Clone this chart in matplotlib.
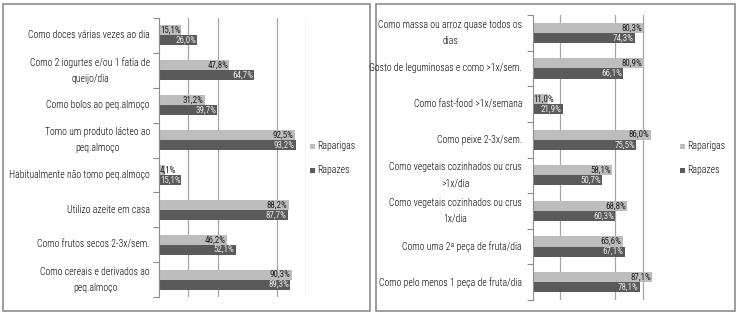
import matplotlib
matplotlib.use("Agg")
import matplotlib.pyplot as plt
from matplotlib.patches import Rectangle

FAMS = ['Liberation Sans Narrow', 'Roboto Condensed', 'DejaVu Sans Condensed',
        'Liberation Sans', 'DejaVu Sans']
plt.rcParams['font.family'] = FAMS

series_names = ["Raparigas", "Rapazes"]

left_categories = [
    "Como doces várias vezes ao dia",
    "Como 2 iogurtes e/ou 1 fatia de\nqueijo/dia",
    "Como bolos ao peq.almoço",
    "Tomo um produto lácteo ao\npeq.almoço",
    "Habitualmente não tomo peq.almoço",
    "Utilizo azeite em casa",
    "Como frutos secos 2-3x/sem.",
    "Como cereais e derivados ao\npeq.almoço",
]
left_raparigas = [15.1, 47.8, 31.2, 92.5, 4.1, 88.2, 46.2, 90.3]
left_rapazes = [26.0, 64.7, 39.7, 93.2, 15.1, 87.7, 52.1, 89.3]

right_categories = [
    "Como massa ou arroz quase todos os\ndias",
    "Gosto de leguminosas e como >1x/sem.",
    "Como fast-food >1x/semana",
    "Como peixe 2-3x/sem.",
    "Como vegetais cozinhados ou crus\n>1x/dia",
    "Como vegetais cozinhados ou crus\n1x/dia",
    "Como uma 2ª peça de fruta/dia",
    "Como pelo menos 1 peça de fruta/dia",
]
right_raparigas = [80.3, 80.9, 11.0, 86.0, 58.1, 68.8, 65.6, 87.1]
right_rapazes = [74.3, 66.1, 21.9, 75.5, 50.7, 60.3, 67.1, 78.1]

W, H = 737, 314
fig = plt.figure(figsize=(W / 100, H / 100), dpi=100)
fig.patch.set_facecolor("white")

LIGHT = "#bdbdbd"
DARK = "#5a5a5a"
GRID = "#a6a6a6"
CAT_FS = 7.0
VAL_FS = 6.5
WEIGHT = "light"


def fx(px):
    return px / W


def fy(py):
    return 1 - py / H


def fmt(v):
    return f"{v:.1f}%".replace(".", ",")


def panel(frame, axbox, label_right, legend_x, cats, rap, raz, grid_vals):
    fx0, fy0, fx1, fy1 = frame
    fig.patches.append(Rectangle((fx(fx0), fy(fy1)), fx(fx1 - fx0), (fy1 - fy0) / H,
                                 transform=fig.transFigure, fill=False,
                                 edgecolor="#8c8c8c", linewidth=1.2))
    x0, y0, x1, y1 = axbox
    ax = fig.add_axes([fx(x0), fy(y1), fx(x1 - x0), (y1 - y0) / H])
    n = len(cats)
    pos = list(range(n))
    bh = 0.285
    ax.barh([p - bh / 2 for p in pos], rap, height=bh, color=LIGHT, zorder=2)
    ax.barh([p + bh / 2 for p in pos], raz, height=bh, color=DARK, zorder=2)
    for vals, off, col in [(rap, -bh / 2, "#202020"), (raz, bh / 2, "#e8e8e8")]:
        for p, v in zip(pos, vals):
            if v < 18:
                ax.text(0.6, p + off, fmt(v), ha="left", va="center",
                        fontsize=VAL_FS, color=col if v >= 12 else "#202020",
                        zorder=3)
            else:
                ax.text(v - 0.8, p + off, fmt(v), ha="right", va="center",
                        fontsize=VAL_FS, color=col, zorder=3)
    ax.set_xlim(0, 100)
    ax.set_ylim(n - 0.5, -0.5)
    for g in grid_vals:
        ax.axvline(g, color=GRID, linewidth=0.9, zorder=1)
    for s in ["top", "right", "bottom"]:
        ax.spines[s].set_visible(False)
    ax.spines["left"].set_color("#8c8c8c")
    ax.set_xticks([])
    ax.set_yticks([b - 0.5 for b in range(n + 1)])
    ax.set_yticklabels([])
    ax.tick_params(axis="y", direction="out", length=4, color="#8c8c8c")
    step = (y1 - y0) / n
    for i, c in enumerate(cats):
        fig.text(fx(label_right), fy(y0 + step * (i + 0.5)), c, ha="right",
                 va="center", fontsize=CAT_FS, color="#000000", linespacing=1.75,
                 multialignment="center", fontweight=WEIGHT)
    for name, col, py in [(series_names[0], LIGHT, 146), (series_names[1], DARK, 170)]:
        fig.patches.append(Rectangle((fx(legend_x), fy(py + 3)), fx(5), 5 / H,
                                     transform=fig.transFigure, facecolor=col,
                                     edgecolor="none"))
        fig.text(fx(legend_x + 7), fy(py), name, ha="left", va="center",
                 fontsize=CAT_FS, color="#000000", fontweight=WEIGHT)
    return ax


axL = panel((3, 4, 370, 311), (159, 18, 306, 297), 150, 310,
            left_categories, left_raparigas, left_rapazes, [20, 40, 80, 100])
axR = panel((376, 4, 735, 311), (532.5, 15, 670, 300), 522, 680,
            right_categories, right_raparigas, right_rapazes, [20, 60, 80])

fig.savefig("out.png", dpi=100, facecolor="white")
